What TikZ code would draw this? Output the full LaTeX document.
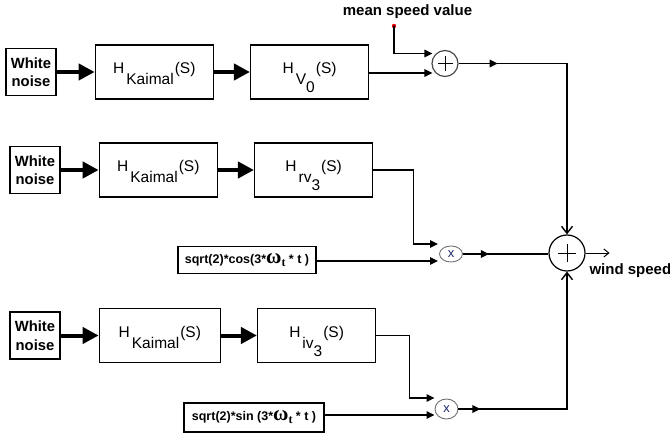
\documentclass[tikz,border=0pt]{standalone}
\usepackage{fontspec}
\setmainfont{Liberation Sans}
\newfontfamily\greekserif{Liberation Serif}
\usetikzlibrary{arrows.meta,calc,positioning,shapes.geometric,decorations.markings}
\definecolor{ink}{HTML}{000000}
\definecolor{rim}{HTML}{4A4A4A}
\definecolor{muted}{HTML}{707070}
\definecolor{navy}{HTML}{1F2A6B}
\definecolor{dot}{HTML}{E00000}
\newcommand{\Hblock}[2]{H\kern2pt\raisebox{-11pt}{#1\raisebox{-8pt}{#2}}\kern1pt(S)}
\newcommand{\omegat}{{\greekserif\bfseries\fontsize{21}{21}\selectfont ω}\raisebox{-3pt}{\greekserif\bfseries\fontsize{12}{12}\selectfont t}}
\tikzset{
  box/.style={draw=ink,line width=1.3pt,fill=white,inner sep=0pt,align=center,text=ink},
  noisebox/.style={box,minimum width=50pt,minimum height=47pt,font=\fontsize{14.8}{18.5}\selectfont\bfseries},
  tfbox/.style={box,minimum width=118pt,minimum height=54pt,text height=12pt,text depth=8pt,font=\fontsize{15.5}{16}\selectfont},
  gainbox/.style={box,minimum height=27pt,font=\fontsize{12.5}{14}\selectfont\bfseries},
  sumbox/.style={circle,draw=rim,line width=1.2pt,inner sep=0pt,
    path picture={\draw[line width=1pt,ink]
      ([xshift=-#1]path picture bounding box.center) -- ([xshift=#1]path picture bounding box.center)
      ([yshift=-#1]path picture bounding box.center) -- ([yshift=#1]path picture bounding box.center);}},
  mulbox/.style={ellipse,draw=muted,line width=0.9pt,minimum width=23pt,inner sep=0pt,
                 text=navy,font=\fontsize{13}{13}\selectfont},
  thickflow/.style={-{Triangle[length=16pt,width=16pt]},line width=4pt,draw=ink},
  thinflow/.style={-{Triangle[length=8pt,width=7.5pt]},line width=1.4pt,draw=ink},
  plainflow/.style={line width=1.4pt,draw=ink},
  outflow/.style={-{Straight Barb[length=7pt,width=11pt]},line width=1.4pt,draw=ink},
  midarrow/.style={postaction={decorate},
    decoration={markings,mark=at position #1 with {\arrow{Triangle[length=8pt,width=7.5pt]}}}}
}

\begin{document}
\begin{tikzpicture}[x=1pt,y=-1pt]
  \useasboundingbox (0,0) rectangle (670,433);
  \node[noisebox] (wn1) at (31,72) {White\\noise};
  \node[tfbox,right=38pt of wn1] (k1) {\Hblock{Kaimal}{}};
  \node[tfbox,right=36pt of k1] (hv) {\Hblock{V}{0}};
  \node[noisebox] (wn2) at (35,170) {White\\noise};
  \node[tfbox,right=38pt of wn2] (k2) {\Hblock{Kaimal}{}};
  \node[tfbox,right=36pt of k2] (hrv) {\Hblock{rv}{3}};
  \node[noisebox] (wn3) at (35,335.5) {White\\noise};
  \node[tfbox,right=38pt of wn3,minimum width=121pt] (k3) {\Hblock{Kaimal}{}};
  \node[tfbox,right=36pt of k3] (hiv) {\Hblock{iv}{3}};
  \node[gainbox,minimum width=138pt] (cos) at (247,260) {sqrt(2)*cos(3*\omegat\ * t )};
  \node[gainbox,minimum width=140pt,minimum height=29pt] (sin) at (254,417.5) {sqrt(2)*sin (3*\omegat\ * t )};
  \node[sumbox=7.5pt,minimum size=26pt] (s1) at (445,63.5) {};
  \node[sumbox=9pt,minimum size=36pt,draw=ink] (sum) at (567,253) {};
  \node[mulbox,minimum height=16pt] (m1) at (451,254) {x};
  \node[mulbox,minimum height=20pt] (m2) at (446.5,409) {x};
  \node[font=\fontsize{15}{16}\selectfont\bfseries] (msv) at (407.5,12) {mean speed value};
  \node[font=\fontsize{15}{16}\selectfont\bfseries,anchor=west] (ws) at (586,271) {wind speed};
  \coordinate (msd) at (394,26);
  \coordinate (s1a) at ($(s1.west)+(1,-10)$);
  \coordinate (s1b) at ($(s1.west)+(1,9.5)$);
  \coordinate (m1a) at ($(m1.west)+(-1,-10)$);
  \coordinate (m1b) at ($(m1.west)+(-1,7)$);
  \coordinate (m2a) at ($(m2.west)+(0,-11)$);
  \coordinate (m2b) at ($(m2.west)+(0,6)$);
  \coordinate (wout) at ($(sum.east)+(24,0)$);
  \draw[thickflow] (wn1) -- (k1);
  \draw[thickflow] (k1) -- (hv);
  \draw[thickflow] (wn2) -- (k2);
  \draw[thickflow] (k2) -- (hrv);
  \draw[thickflow] (wn3) -- (k3);
  \draw[thickflow] (k3) -- (hiv);
  \fill[dot] (msd) circle (2.2pt);
  \draw[thinflow] (msd) |- (s1a);
  \draw[thinflow] (s1b -| hv.east) -- (s1b);
  \draw[outflow,midarrow=39pt] (s1.east) -| (sum.north);
  \draw[thinflow] (hrv.east) -- ++(40,0) |- (m1a);
  \draw[thinflow] (cos.east |- m1b) -- (m1b);
  \draw[plainflow,midarrow=26pt] (m1.east) -- (m1.east -| sum.west);
  \draw[thinflow] (hiv.east) -- ++(33,0) |- (m2a);
  \draw[thinflow] (sin.east |- m2b) -- (m2b);
  \draw[outflow,midarrow=22pt] (m2.east) -| (sum.south);
  \draw[-{Straight Barb[length=5pt,width=8pt]},line width=1pt] (sum.east) -- (wout);
\end{tikzpicture}
\end{document}
